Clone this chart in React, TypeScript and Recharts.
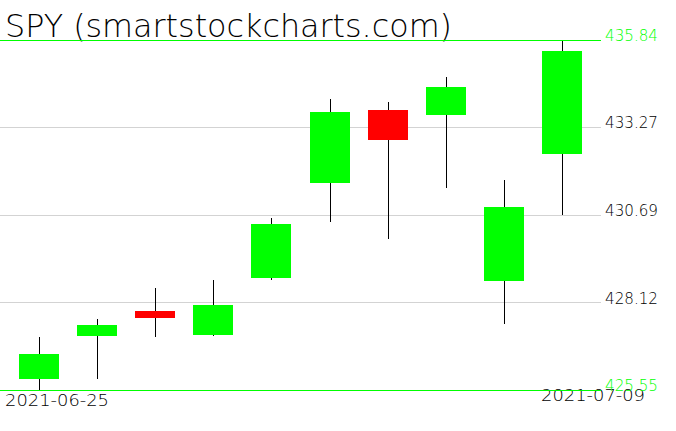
import React from "react";
import {
  ComposedChart,
  Bar,
  XAxis,
  YAxis,
  CartesianGrid,
  ReferenceLine,
  Customized,
} from "recharts";

const dates = [
  "2021-06-25",
  "2021-06-28",
  "2021-06-29",
  "2021-06-30",
  "2021-07-01",
  "2021-07-02",
  "2021-07-06",
  "2021-07-07",
  "2021-07-08",
  "2021-07-09",
];
const opens = [425.88, 427.15, 427.87, 427.18, 428.85, 431.64, 433.78, 433.64, 428.76, 432.5];
const highs = [427.11, 427.64, 428.56, 428.78, 430.61, 434.11, 434.02, 434.75, 431.72, 435.84];
const lows = [425.55, 425.88, 427.12, 427.15, 428.78, 430.5, 430.0, 431.5, 427.5, 430.69];
const closes = [426.61, 427.46, 427.68, 428.05, 430.43, 433.72, 432.9, 434.46, 430.93, 435.52];
const yTicks = [425.55, 428.12, 430.69, 433.27, 435.84];

const title = "SPY (smartstockcharts.com)";
const GREEN = "#00ff00";
const RED = "#ff0000";
const FONT = "'DejaVu Sans', sans-serif";

const data = dates.map((date, i) => ({
  date,
  open: opens[i],
  high: highs[i],
  low: lows[i],
  close: closes[i],
}));

function Candle(props: any) {
  const { x, y, width, height, payload } = props;
  const { open, high, low, close } = payload;
  const span = high - low || 1;
  const py = (v: number) => y + ((high - v) / span) * height;
  const cx = Math.round(x + width / 2) + 0.5;
  const top = py(Math.max(open, close));
  const bottom = py(Math.min(open, close));
  return (
    <g>
      <line x1={cx} x2={cx} y1={y} y2={y + height} stroke="#000" strokeWidth={1} shapeRendering="crispEdges" />
      <rect
        x={Math.round(x)}
        y={top}
        width={width}
        height={Math.max(bottom - top, 1)}
        fill={close >= open ? GREEN : RED}
        shapeRendering="crispEdges"
      />
    </g>
  );
}

function PriceTick(props: any) {
  const { x, y, payload, index } = props;
  const edge = index === 0 || index === yTicks.length - 1;
  return (
    <text
      x={x - 4}
      y={y + 1}
      fill={edge ? GREEN : "#000"}
      fontFamily={FONT}
      fontWeight={200}
      fontSize={15}
      textLength={53}
      lengthAdjust="spacingAndGlyphs"
    >
      {payload.value.toFixed(2)}
    </text>
  );
}

function Labels() {
  return (
    <g fontFamily={FONT} fontWeight={200} fill="#000">
      <text x={5} y={37} fontSize={31.5} textLength={447} lengthAdjust="spacingAndGlyphs">
        {title}
      </text>
      <text x={5} y={406} fontSize={15} textLength={104} lengthAdjust="spacingAndGlyphs">
        {dates[0]}
      </text>
      <text x={541} y={401} fontSize={15} textLength={104} lengthAdjust="spacingAndGlyphs">
        {dates[dates.length - 1]}
      </text>
    </g>
  );
}

export default function App() {
  return (
    <div style={{ position: "absolute", left: 0, top: 0, background: "#fff" }}>
      <ComposedChart
        width={676}
        height={431}
        data={data}
        margin={{ top: 40, right: 0, bottom: 41, left: 0 }}
      >
        <CartesianGrid vertical={false} stroke="#d3d3d3" shapeRendering="crispEdges" />
        <XAxis dataKey="date" type="category" hide padding={{ left: 10, right: 10 }} />
        <YAxis
          orientation="right"
          width={75}
          domain={[yTicks[0], yTicks[yTicks.length - 1]]}
          ticks={yTicks}
          axisLine={false}
          tickLine={false}
          tick={<PriceTick />}
        />
        <Bar
          dataKey={(d: any) => [d.low, d.high]}
          barSize={40}
          shape={<Candle />}
          isAnimationActive={false}
        />
        <ReferenceLine y={yTicks[yTicks.length - 1]} stroke={GREEN} shapeRendering="crispEdges" />
        <ReferenceLine y={yTicks[0]} stroke={GREEN} shapeRendering="crispEdges" />
        <Customized component={Labels} />
      </ComposedChart>
    </div>
  );
}
